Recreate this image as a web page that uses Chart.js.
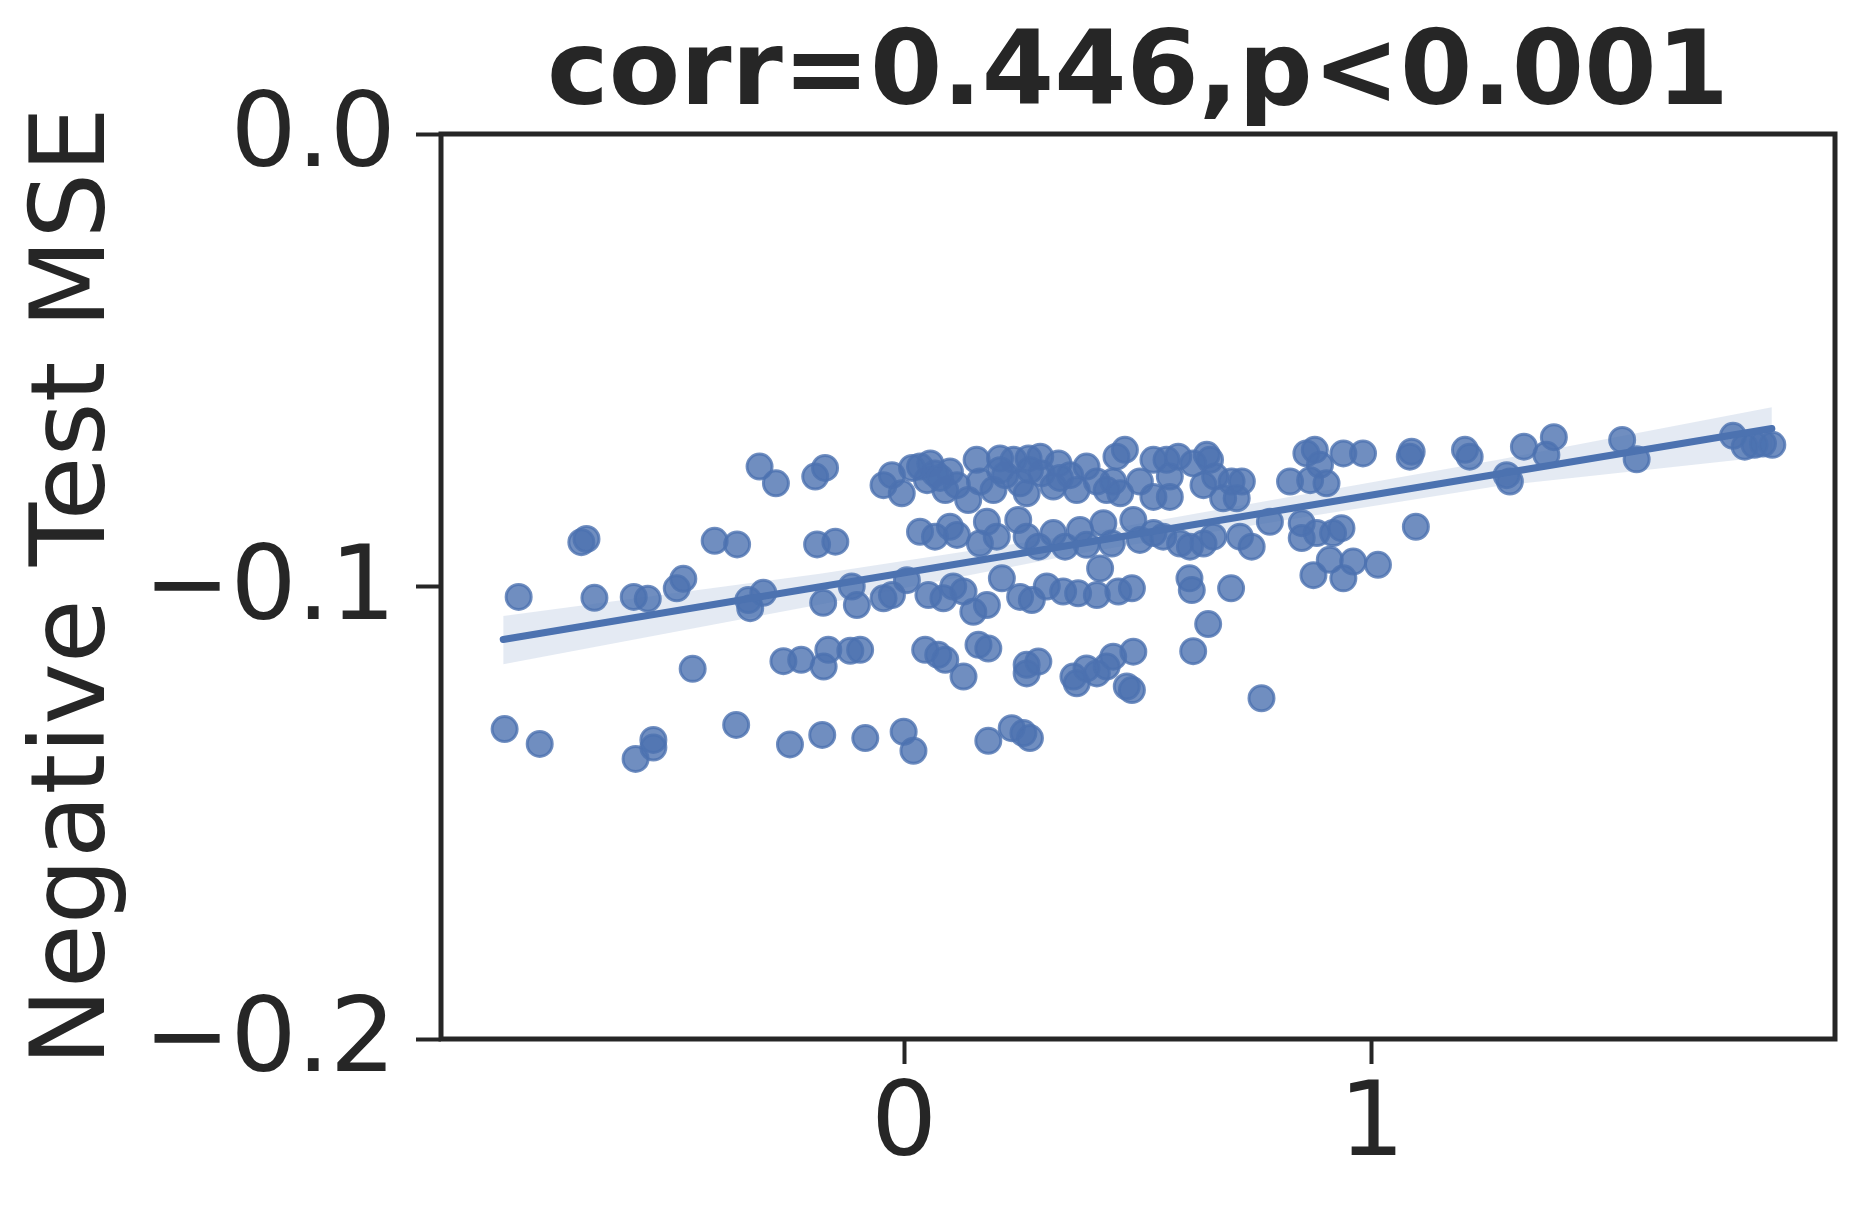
<!DOCTYPE html>
<html>
<head>
<meta charset="utf-8">
<script src="https://cdn.jsdelivr.net/npm/chart.js@4"></script>
<style>body{margin:0;background:#fff}</style>
</head>
<body>
<canvas id="graph" width="1865" height="1210"></canvas>
<script>
// scatter points
const ptX = [
  -0.309, -0.274, -0.190, -0.169, -0.690, -0.679, -0.405, -0.357, -0.186, -0.147,
  -0.824, -0.662, -0.578, -0.548, -0.486, -0.472, -0.333, -0.329, -0.301, -0.173,
  -0.452, -0.258, -0.220, -0.854, -0.779, -0.574, -0.536, -0.536, -0.359, -0.244, -0.175,
  -0.044, -0.026, -0.005, 0.034, 0.056, 0.066, 0.049, 0.088, 0.098, 0.113, 0.137, 0.155,
  0.162, 0.191, 0.205, 0.216, 0.234, 0.248, 0.262, 0.266, 0.291, 0.294, 0.319, 0.330,
  0.355, 0.369, 0.390, 0.412, 0.433, 0.447, 0.462, 0.454, 0.472, 0.504, 0.533, 0.533,
  0.017, 0.077, 0.205, 0.333, 0.269,
  0.034, 0.066, 0.098, 0.113, 0.162, 0.177, 0.198, 0.244, 0.262, 0.287, 0.319, 0.344,
  0.376, 0.390, 0.426, 0.444, 0.490, 0.504, 0.419, 0.533,
  -0.101, -0.112, -0.044, -0.026, 0.006, 0.052, 0.084, 0.105, 0.127, 0.148, 0.177,
  0.209, 0.248, 0.273, 0.305, 0.340, 0.372, 0.412, 0.458, 0.487,
  -0.162, -0.172, -0.115, -0.094, 0.045, 0.073, 0.088, 0.127, 0.159, 0.180, 0.262,
  0.262, 0.287, 0.362, 0.369, 0.390, 0.412, 0.433, 0.447, 0.490, 0.487, 0.476,
  -0.083, -0.001, 0.020, 0.180, 0.230, 0.255, 0.269,
  0.561, 0.568, 0.568, 0.586, 0.618, 0.647, 0.654, 0.640, 0.665, 0.682, 0.700, 0.711,
  0.722, 0.825, 0.860, 0.878, 0.889, 0.868, 0.903, 0.939, 0.981, 1.085, 1.081, 1.199, 1.209,
  0.554, 0.590, 0.611, 0.640, 0.661, 0.718, 0.743, 0.782, 0.850, 0.850, 0.882, 0.917,
  0.935, 1.094, 0.910, 0.960, 1.013, 0.875, 0.939, 0.610, 0.615, 0.699, 0.650, 0.618, 0.764,
  1.295, 1.288, 1.325, 1.389, 1.373, 1.535, 1.566, 1.772, 1.797, 1.818, 1.836, 1.856
];
const ptY = [
  -0.0735, -0.0772, -0.0757, -0.0738, -0.0902, -0.0895, -0.0899, -0.0907, -0.0907, -0.0901,
  -0.1023, -0.1025, -0.1023, -0.1027, -0.1004, -0.0983, -0.1030, -0.1048, -0.1014, -0.1036,
  -0.1182, -0.1165, -0.1162, -0.1315, -0.1348, -0.1381, -0.1339, -0.1356, -0.1306, -0.1349, -0.1328,
  -0.0776, -0.0754, -0.0794, -0.0735, -0.0728, -0.0750, -0.0765, -0.0787, -0.0746, -0.0776, -0.0809, -0.0720,
  -0.0768, -0.0787, -0.0717, -0.0754, -0.0720, -0.0772, -0.0794, -0.0717, -0.0713, -0.0750, -0.0779, -0.0728,
  -0.0754, -0.0787, -0.0735, -0.0768, -0.0787, -0.0768, -0.0794, -0.0713, -0.0698, -0.0768, -0.0720, -0.0802,
  -0.0738, -0.0760, -0.0743, -0.0760, -0.0743,
  -0.0879, -0.0890, -0.0868, -0.0886, -0.0905, -0.0857, -0.0890, -0.0853, -0.0890, -0.0912, -0.0882, -0.0912,
  -0.0875, -0.0908, -0.0860, -0.0905, -0.0853, -0.0897, -0.0960, -0.0882,
  -0.1041, -0.1000, -0.1026, -0.1019, -0.0986, -0.1019, -0.1026, -0.1000, -0.1011, -0.1056, -0.1041,
  -0.0982, -0.1023, -0.1030, -0.1000, -0.1011, -0.1015, -0.1019, -0.1011, -0.1004,
  -0.1140, -0.1177, -0.1142, -0.1140, -0.1140, -0.1151, -0.1162, -0.1199, -0.1129, -0.1137, -0.1173,
  -0.1192, -0.1166, -0.1199, -0.1214, -0.1181, -0.1192, -0.1177, -0.1155, -0.1144, -0.1229, -0.1221,
  -0.1335, -0.1321, -0.1363, -0.1341, -0.1313, -0.1324, -0.1335,
  -0.0720, -0.0757, -0.0802, -0.0713, -0.0728, -0.0709, -0.0720, -0.0776, -0.0757, -0.0805, -0.0768, -0.0805,
  -0.0768, -0.0768, -0.0706, -0.0698, -0.0731, -0.0765, -0.0772, -0.0706, -0.0706, -0.0702, -0.0713, -0.0698, -0.0713,
  -0.0890, -0.0905, -0.0912, -0.0905, -0.0890, -0.0890, -0.0912, -0.0857, -0.0860, -0.0893, -0.0882, -0.0882,
  -0.0871, -0.0868, -0.0941, -0.0945, -0.0952, -0.0975, -0.0982, -0.0982, -0.1008, -0.1004, -0.1083, -0.1143, -0.1247,
  -0.0768, -0.0754, -0.0691, -0.0670, -0.0709, -0.0676, -0.0719, -0.0667, -0.0691, -0.0687, -0.0684, -0.0687
];

// regression line and its confidence band
const fitX = [-0.857, 1.855];
const fitY = [-0.1117, -0.0651];
const bandX = [-0.857, -0.18, 0.4, 1.27, 1.855];
const bandHi = [-0.1065, -0.0972, -0.0880, -0.0720, -0.0604];
const bandLo = [-0.1172, -0.1040, -0.0922, -0.0778, -0.0712];

const xTicks = [0, 1];
const yTicks = [-0.2, -0.1, 0];

const ink = '#262626';
const blue = '#4C72B0';
const font = 'DejaVu Sans';

const pairs = (xs, ys) => xs.map((x, i) => ({x: x, y: ys[i]}));

// box around the plot (all four spines)
const frame = {
  id: 'frame',
  afterDatasetsDraw(chart) {
    const {ctx, chartArea: a} = chart;
    ctx.save();
    ctx.strokeStyle = ink;
    ctx.lineWidth = 5;
    ctx.strokeRect(a.left, a.top, a.right - a.left, a.bottom - a.top);
    ctx.restore();
  }
};

const config = {
  type: 'scatter',
  data: {
    datasets: [
      {
        type: 'line',
        data: pairs(fitX, fitY),
        borderColor: blue,
        borderWidth: 7,
        borderCapStyle: 'round',
        pointRadius: 0,
        fill: false,
        order: 0
      },
      {
        type: 'line',
        data: pairs(bandX, bandHi),
        borderColor: 'rgba(0,0,0,0)',
        pointRadius: 0,
        fill: false,
        order: 1
      },
      {
        type: 'line',
        data: pairs(bandX, bandLo),
        borderColor: 'rgba(0,0,0,0)',
        backgroundColor: 'rgba(76,114,176,0.15)',
        pointRadius: 0,
        fill: '-1',
        order: 1
      },
      {
        data: pairs(ptX, ptY),
        backgroundColor: 'rgba(76,114,176,0.8)',
        borderColor: 'rgba(76,114,176,0.8)',
        borderWidth: 3,
        pointRadius: 12.5,
        order: 2
      }
    ]
  },
  options: {
    responsive: false,
    devicePixelRatio: 1,
    animation: false,
    layout: {padding: {left: 0, right: 30, top: 0, bottom: 0}},
    plugins: {
      legend: {display: false},
      tooltip: {enabled: false}
    },
    scales: {
      x: {
        type: 'linear',
        min: -0.99,
        max: 1.99,
        afterBuildTicks: s => { s.ticks = xTicks.map(v => ({value: v})); },
        afterFit: s => { s.height = 171; },
        border: {display: false},
        grid: {drawOnChartArea: false, drawTicks: true, tickLength: 25, tickWidth: 4, tickColor: ink},
        ticks: {
          color: ink,
          padding: 2,
          maxRotation: 0,
          font: {family: font, size: 104},
          callback: v => String(v)
        }
      },
      // top axis only carries the title so it centres over the plot
      top: {
        type: 'linear',
        axis: 'x',
        position: 'top',
        min: -0.99,
        max: 1.99,
        afterFit: s => { s.height = 134; },
        border: {display: false},
        grid: {display: false},
        ticks: {display: false},
        title: {
          display: true,
          text: 'corr=0.446,p<0.001',
          color: ink,
          font: {family: font, size: 104, weight: 'bold', lineHeight: 1},
          padding: {top: 25, bottom: 5}
        }
      },
      y: {
        type: 'linear',
        min: -0.2,
        max: 0,
        afterBuildTicks: s => { s.ticks = yTicks.map(v => ({value: v})); },
        afterFit: s => { s.width = 441; },
        border: {display: false},
        grid: {drawOnChartArea: false, drawTicks: true, tickLength: 25, tickWidth: 4, tickColor: ink},
        ticks: {
          color: ink,
          padding: 20,
          labelOffset: 5,
          font: {family: font, size: 104},
          callback: v => (v < 0 ? '\u2212' : '') + Math.abs(v).toFixed(1)
        },
        title: {
          display: true,
          text: 'Negative Test MSE',
          color: ink,
          font: {family: font, size: 104},
          padding: {top: 15, bottom: 0}
        }
      }
    }
  },
  plugins: [frame]
};

const myChart = new Chart(document.getElementById('graph'), config);
</script>
</body>
</html>
